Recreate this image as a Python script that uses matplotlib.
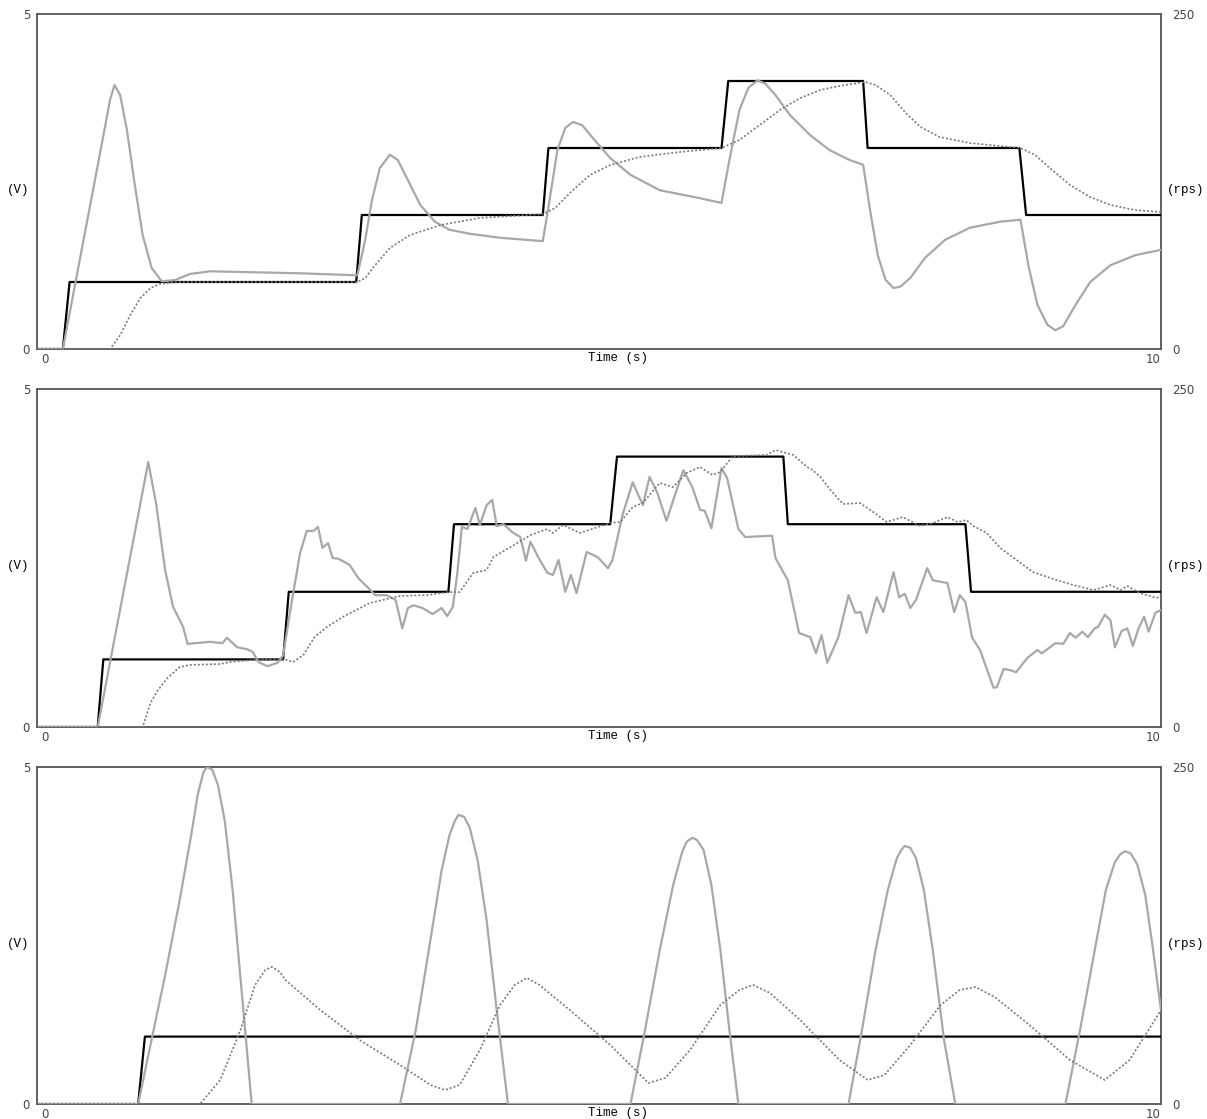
import numpy as np
import matplotlib
matplotlib.use('Agg')
import matplotlib.pyplot as plt

# ---- panel 1 ----
t_cmd1 = [0, 0.23, 0.29, 2.84, 2.89, 4.50, 4.55, 6.09, 6.15, 7.35, 7.39, 8.74, 8.80, 10]
v_cmd1 = [0, 0, 1, 1, 2, 2, 3, 3, 4, 4, 3, 3, 2, 2]

t_cur1 = [0, 0.23, 0.60, 0.65, 0.69, 0.74, 0.80, 0.87, 0.94, 1.02, 1.11, 1.23, 1.36, 1.54,
          2.34, 2.85, 2.92, 2.98, 3.05, 3.14, 3.21, 3.30, 3.41, 3.54, 3.67, 3.85, 4.12,
          4.50, 4.56, 4.63, 4.70, 4.77, 4.85, 4.96, 5.10, 5.28, 5.54, 5.90, 6.09,
          6.16, 6.25, 6.33, 6.41, 6.48, 6.57, 6.70, 6.88, 7.05, 7.23, 7.35,
          7.41, 7.48, 7.55, 7.62, 7.68, 7.77, 7.90, 8.08, 8.30, 8.57, 8.75,
          8.82, 8.90, 8.99, 9.06, 9.13, 9.24, 9.37, 9.55, 9.77, 10.0]
v_cur1 = [0, 0, 3.27, 3.72, 3.94, 3.79, 3.27, 2.45, 1.70, 1.21, 1.01, 1.03, 1.12, 1.16,
          1.13, 1.10, 1.63, 2.22, 2.70, 2.90, 2.82, 2.52, 2.15, 1.90, 1.78, 1.72, 1.66,
          1.61, 2.22, 2.97, 3.30, 3.39, 3.34, 3.12, 2.85, 2.60, 2.37, 2.25, 2.18,
          2.82, 3.57, 3.90, 4.01, 3.96, 3.79, 3.49, 3.19, 2.97, 2.82, 2.75,
          2.09, 1.40, 1.03, 0.91, 0.93, 1.06, 1.36, 1.63, 1.81, 1.90, 1.93,
          1.25, 0.66, 0.36, 0.28, 0.34, 0.66, 1.00, 1.25, 1.40, 1.48]

t_spd1 = [0, 0.65, 0.74, 0.83, 0.92, 1.01, 1.09, 1.23, 2.85, 2.92, 3.01, 3.14, 3.32, 3.59,
          3.94, 4.50, 4.61, 4.74, 4.92, 5.10, 5.36, 5.72, 6.09, 6.25, 6.43, 6.61, 6.79,
          6.97, 7.14, 7.37, 7.46, 7.59, 7.72, 7.86, 8.03, 8.30, 8.57, 8.75, 8.88, 9.01,
          9.19, 9.37, 9.55, 9.77, 10.0]
rps1 = [0, 0, 10.4, 25.4, 38.1, 45.5, 48.5, 50, 50, 53, 62.7, 75.4, 85.1, 92.5,
        97.8, 100.7, 105.2, 116.4, 129.9, 137.3, 143.3, 147.0, 150.0, 156, 167.2, 178.4, 187.3,
        193.3, 196.3, 199.3, 197, 189.6, 177, 165.7, 158.2, 153.7, 151.5, 150, 144.8, 135.1,
        122.4, 113.4, 107.5, 103.7, 102.2]

# ---- panel 2 ----
t_cmd2 = [0, 0.54, 0.59, 2.19, 2.24, 3.66, 3.71, 5.10, 5.16, 6.64, 6.68, 8.26, 8.31, 10]
v_cmd2 = [0, 0, 1, 1, 2, 2, 3, 3, 4, 4, 3, 3, 2, 2]

t_cur2 = [0, 0.54, 0.99, 1.06, 1.14, 1.21, 1.30, 1.34, 1.54, 1.65, 1.69, 1.78, 1.87, 1.92, 1.97,
          2.05, 2.14, 2.19, 2.25, 2.34, 2.40, 2.46, 2.50, 2.54, 2.59, 2.63, 2.68, 2.78,
          2.86, 2.94, 3.01, 3.11, 3.19, 3.25, 3.30, 3.35, 3.43, 3.52, 3.60, 3.65, 3.70,
          3.74, 3.78, 3.83, 3.90, 3.94, 4.00, 4.05, 4.09, 4.15, 4.23, 4.30, 4.35, 4.39,
          4.46, 4.54, 4.59, 4.64, 4.70, 4.75, 4.80, 4.89, 4.99, 5.08, 5.12, 5.21, 5.30,
          5.39, 5.45, 5.52, 5.60, 5.75, 5.83, 5.90, 5.94, 6.00, 6.09, 6.14, 6.24, 6.30,
          6.54, 6.57, 6.68, 6.78, 6.88, 6.93, 6.98, 7.03, 7.13, 7.22, 7.28, 7.33, 7.38,
          7.47, 7.53, 7.62, 7.67, 7.72, 7.77, 7.82, 7.92, 7.97, 8.10, 8.16, 8.21, 8.26,
          8.32, 8.39, 8.51, 8.54, 8.60, 8.66, 8.71, 8.81, 8.90, 8.94, 9.06, 9.13, 9.19,
          9.24, 9.30, 9.35, 9.41, 9.44, 9.50, 9.55, 9.59, 9.65, 9.70, 9.75, 9.80, 9.85,
          9.89, 9.95, 10.0]
v_cur2 = [0, 0, 3.92, 3.30, 2.32, 1.78, 1.48, 1.23, 1.26, 1.24, 1.32, 1.18, 1.15, 1.11, 0.96,
          0.90, 0.95, 1.06, 1.69, 2.57, 2.90, 2.90, 2.96, 2.65, 2.72, 2.50, 2.49, 2.40,
          2.20, 2.07, 1.95, 1.95, 1.88, 1.46, 1.76, 1.80, 1.76, 1.67, 1.76, 1.64, 1.78,
          2.28, 2.96, 2.93, 3.24, 2.99, 3.28, 3.36, 2.97, 3.00, 2.88, 2.81, 2.46, 2.74,
          2.51, 2.28, 2.25, 2.47, 2.00, 2.25, 1.98, 2.59, 2.51, 2.35, 2.47, 3.14, 3.62,
          3.28, 3.70, 3.46, 3.05, 3.80, 3.55, 3.21, 3.20, 2.94, 3.83, 3.68, 2.93, 2.81,
          2.83, 2.50, 2.17, 1.39, 1.33, 1.09, 1.36, 0.95, 1.33, 1.95, 1.69, 1.70, 1.39,
          1.92, 1.70, 2.29, 1.92, 1.97, 1.76, 1.88, 2.35, 2.17, 2.13, 1.70, 1.95, 1.85,
          1.32, 1.14, 0.58, 0.59, 0.86, 0.84, 0.81, 1.02, 1.14, 1.09, 1.24, 1.23, 1.39,
          1.32, 1.41, 1.33, 1.46, 1.48, 1.66, 1.58, 1.18, 1.42, 1.46, 1.20, 1.46, 1.63,
          1.41, 1.69, 1.73]

t_spd2 = [0, 0.94, 1.01, 1.07, 1.16, 1.27, 1.36, 1.63, 1.72, 2.01, 2.22, 2.28, 2.37, 2.47,
          2.58, 2.72, 2.96, 3.23, 3.47, 3.67, 3.76, 3.88, 4.00, 4.06, 4.23, 4.39, 4.54,
          4.59, 4.68, 4.83, 5.10, 5.19, 5.30, 5.39, 5.54, 5.66, 5.78, 5.90, 6.01, 6.08,
          6.19, 6.49, 6.57, 6.73, 6.85, 6.90, 6.97, 7.06, 7.17, 7.32, 7.44, 7.56, 7.70,
          7.86, 7.97, 8.10, 8.19, 8.27, 8.33, 8.45, 8.57, 8.68, 8.86, 9.07, 9.22, 9.40,
          9.55, 9.64, 9.70, 9.81, 9.93, 10.0]
rps2 = [0, 0, 17.8, 26.6, 36.2, 44.4, 45.9, 46.6, 48.1, 50.3, 49.6, 48.1, 53.3, 66.6,
        74.0, 81.4, 91.7, 96.9, 97.6, 99.8, 99.8, 113.9, 116.1, 125.7, 133.9, 142.0, 146.4,
        143.5, 149.4, 143.5, 150.9, 151.6, 162.7, 165.7, 180.5, 177.5, 187.9, 192.3, 186.4, 188.6,
        200.4, 201.2, 204.9, 201.2, 192.3, 190.1, 184.9, 175.3, 164.9, 165.7, 159.0, 151.6, 155.3,
        148.7, 150.9, 155.3, 151.6, 153.1, 148.7, 143.5, 132.4, 125.7, 114.6, 108.7, 105.0, 101.3,
        105.0, 101.3, 104.3, 99.1, 96.1, 95.4]

# ---- panel 3 ----
t_cmd3 = [0, 0.90, 0.96, 10]
v_cmd3 = [0, 0, 1, 1]

t_cur3 = [0, 0.90, 1.00, 1.14, 1.27, 1.38, 1.43, 1.48, 1.51, 1.56, 1.61, 1.67, 1.74, 1.82, 1.91,
          3.23, 3.37, 3.50, 3.60, 3.67, 3.72, 3.75, 3.80, 3.85, 3.92, 4.00, 4.09, 4.19,
          5.28, 5.41, 5.54, 5.66, 5.74, 5.78, 5.83, 5.87, 5.93, 6.00, 6.08, 6.16, 6.24,
          7.22, 7.34, 7.46, 7.57, 7.65, 7.69, 7.72, 7.77, 7.82, 7.89, 7.97, 8.07, 8.17,
          9.15, 9.28, 9.41, 9.51, 9.59, 9.64, 9.68, 9.73, 9.79, 9.86, 9.93, 10.0]
v_cur3 = [0, 0, 0.80, 1.91, 3.03, 4.07, 4.59, 4.92, 5.00, 4.96, 4.73, 4.21, 3.18, 1.69, 0,
          0, 1.10, 2.43, 3.47, 3.99, 4.21, 4.29, 4.26, 4.10, 3.62, 2.73, 1.39, 0,
          0, 1.10, 2.28, 3.25, 3.74, 3.89, 3.95, 3.92, 3.77, 3.25, 2.28, 1.10, 0,
          0, 1.10, 2.28, 3.18, 3.65, 3.77, 3.83, 3.80, 3.65, 3.18, 2.28, 0.95, 0,
          0, 1.10, 2.28, 3.18, 3.59, 3.71, 3.75, 3.72, 3.55, 3.10, 2.28, 1.39]

t_spd3 = [0, 1.45, 1.63, 1.81, 1.94, 2.03, 2.09, 2.16, 2.21, 2.52, 2.87, 3.23, 3.50, 3.63,
          3.76, 3.94, 4.12, 4.25, 4.36, 4.47, 4.74, 5.10, 5.44, 5.59, 5.81, 6.08, 6.25,
          6.37, 6.52, 6.79, 7.14, 7.39, 7.54, 7.77, 8.04, 8.21, 8.35, 8.52, 8.83, 9.19,
          9.50, 9.72, 10.0]
rps3 = [0, 0, 17.8, 54.9, 88.3, 99.4, 101.7, 97.9, 92.0, 69.7, 47.5, 28.9, 14.1, 10.4,
        14.1, 40.1, 73.5, 88.3, 93.5, 88.3, 69.7, 43.8, 15.6, 19.3, 40.1, 73.5, 84.6,
        88.3, 82.4, 62.3, 32.6, 17.8, 21.5, 43.8, 73.5, 84.6, 86.8, 79.4, 58.6, 32.6,
        17.8, 32.6, 69.7]

panels = [
    (t_cmd1, v_cmd1, t_cur1, v_cur1, t_spd1, rps1),
    (t_cmd2, v_cmd2, t_cur2, v_cur2, t_spd2, rps2),
    (t_cmd3, v_cmd3, t_cur3, v_cur3, t_spd3, rps3),
]

W, H = 1207, 1119
fig = plt.figure(figsize=(W / 100, H / 100), dpi=100)
# axes boxes in pixels: (top, bottom)
boxes = [(14, 349), (389, 727), (767, 1104)]
x0, x1 = 37, 1161

mono = 'Liberation Mono'
numcol = '#444444'
spcol = '#555555'

for (tc, vc, ti, vi, ts, rs), (top, bot) in zip(panels, boxes):
    ax = fig.add_axes([x0 / W, 1 - bot / H, (x1 - x0) / W, (bot - top) / H])
    ax.plot(tc, vc, color='black', lw=1.6, zorder=3)
    ax.plot(ti, vi, color='#a8a8a8', lw=1.6, zorder=4)
    ax.set_xlim(0, 10)
    ax.set_ylim(0, 5)
    ax.set_xticks([])
    ax.set_yticks([0, 5])
    ax.tick_params(axis='y', length=0, pad=5, labelsize=8.5, labelcolor=numcol)
    for s in ax.spines.values():
        s.set_color(spcol)
        s.set_linewidth(1.3)

    ax2 = ax.twinx()
    ax2.plot(ts, rs, color='#7a7a7a', lw=1.2, linestyle=(0, (1.2, 1.2)))
    ax2.set_ylim(0, 250)
    ax2.set_xlim(0, 10)
    ax2.set_yticks([0, 250])
    ax2.tick_params(axis='y', length=0, pad=8, labelsize=8.5, labelcolor=numcol)
    for s in ax2.spines.values():
        s.set_visible(False)

    ax.text(0.004, -0.012, '0', transform=ax.transAxes, ha='left', va='top',
            fontsize=8.5, color=numcol)
    ax.text(1.0, -0.012, '10', transform=ax.transAxes, ha='right', va='top',
            fontsize=8.5, color=numcol)
    ax.text(0.517, -0.008, 'Time (s)', transform=ax.transAxes, ha='center', va='top',
            fontsize=9, family=mono, color='black')
    ax.text(-0.017, 0.475, '(V)', transform=ax.transAxes, ha='center', va='center',
            fontsize=9, family=mono, color='black')
    ax.text(1.022, 0.475, '(rps)', transform=ax.transAxes, ha='center', va='center',
            fontsize=9, family=mono, color='black')

fig.savefig('out.png', dpi=100)
